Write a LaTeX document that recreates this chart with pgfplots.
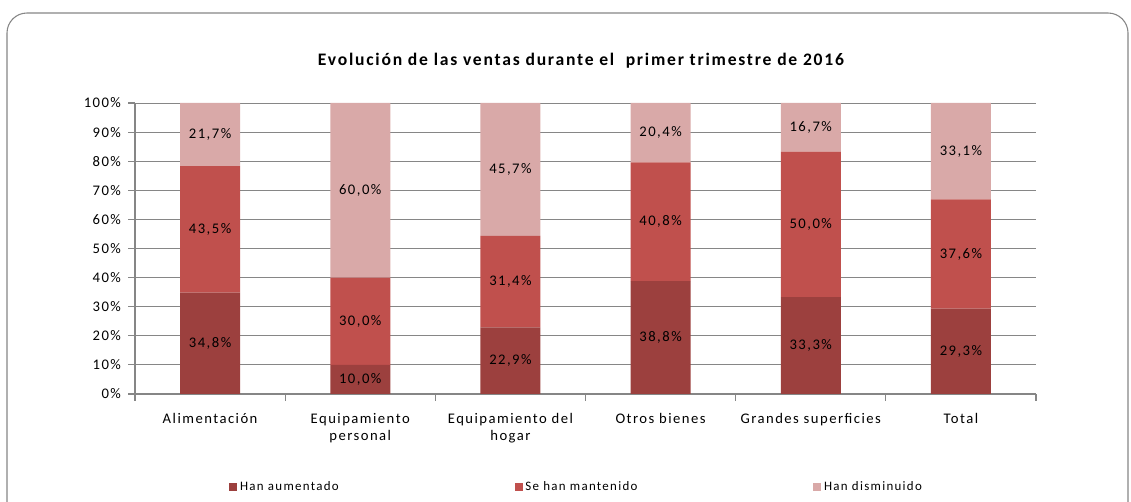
\documentclass[border=0pt]{standalone}
\usepackage{pgfplots}
\pgfplotsset{compat=1.18}
\usepackage{fontspec}
\setmainfont{Carlito}[LetterSpace=10]
\definecolor{cDark}{RGB}{156,64,62}
\definecolor{cMid}{RGB}{192,80,77}
\definecolor{cLight}{RGB}{217,169,168}
\definecolor{cGrid}{RGB}{134,134,134}
\begin{document}
\begin{tikzpicture}
\useasboundingbox (0,0) rectangle (848.25pt,376.5pt);
\draw[cGrid, line width=0.8pt, rounded corners=15pt] (5.25pt,366.75pt) rectangle (846pt,-40pt);
\begin{axis}[
  at={(101.25pt,81pt)}, anchor=south west,
  scale only axis, width=675.75pt, height=218.25pt,
  ybar stacked, bar width=45pt,
  xmin=-0.5, xmax=5.5, ymin=0, ymax=100,
  xtick={-0.5,0.5,...,5.5},
  xticklabels={,,,,,,,},
  extra x ticks={0,1,2,3,4,5},
  extra x tick labels={Alimentación, Equipamiento\\personal, Equipamiento del\\hogar, Otros bienes, Grandes superficies, Total},
  extra x tick style={major tick length=0pt},
  ytick={0,10,...,100},
  yticklabels={0\%,10\%,20\%,30\%,40\%,50\%,60\%,70\%,80\%,90\%,100\%},
  axis x line*=bottom, axis y line*=left,
  axis line style={cGrid, line width=0.8pt},
  tick style={cGrid, line width=0.8pt},
  tick align=outside, major tick length=5pt,
  ymajorgrids, grid style={cGrid, line width=0.7pt},
  tick label style={font=\fontsize{11}{13}\selectfont, text=black},
  x tick label style={align=center, yshift=-11pt},
  y tick label style={xshift=-2pt},
  title={\bfseries Evolución de las ventas durante el\ \ primer trimestre de 2016},
  title style={at={(axis description cs:0.495,1)}, anchor=center, yshift=25.5pt, font=\fontsize{13.2}{16}\selectfont},
  nodes near coords={\pgfmathprintnumber[fixed,fixed zerofill,precision=1,use comma,assume math mode=true]{\pgfplotspointmeta}\%},
  every node near coord/.append style={anchor=center, font=\fontsize{11}{13}\selectfont, text=black},
  legend style={at={(axis description cs:0.4906,-0.3196)}, anchor=center, draw=none, fill=none,
    legend columns=3, font=\fontsize{9.7}{11}\selectfont,
    /tikz/every even column/.append style={column sep=130pt}},
  legend image code/.code={\fill[#1] (0pt,-3pt) rectangle (6pt,3pt);},
]
\addplot[fill=cDark, draw=none] coordinates {(0,34.8) (1,10.0) (2,22.9) (3,38.8) (4,33.3) (5,29.3)};
\addplot[fill=cMid, draw=none] coordinates {(0,43.5) (1,30.0) (2,31.4) (3,40.8) (4,50.0) (5,37.6)};
\addplot[fill=cLight, draw=none] coordinates {(0,21.7) (1,60.0) (2,45.7) (3,20.4) (4,16.7) (5,33.1)};
\legend{Han aumentado, Se han mantenido, Han disminuido}
\end{axis}
\end{tikzpicture}
\end{document}
